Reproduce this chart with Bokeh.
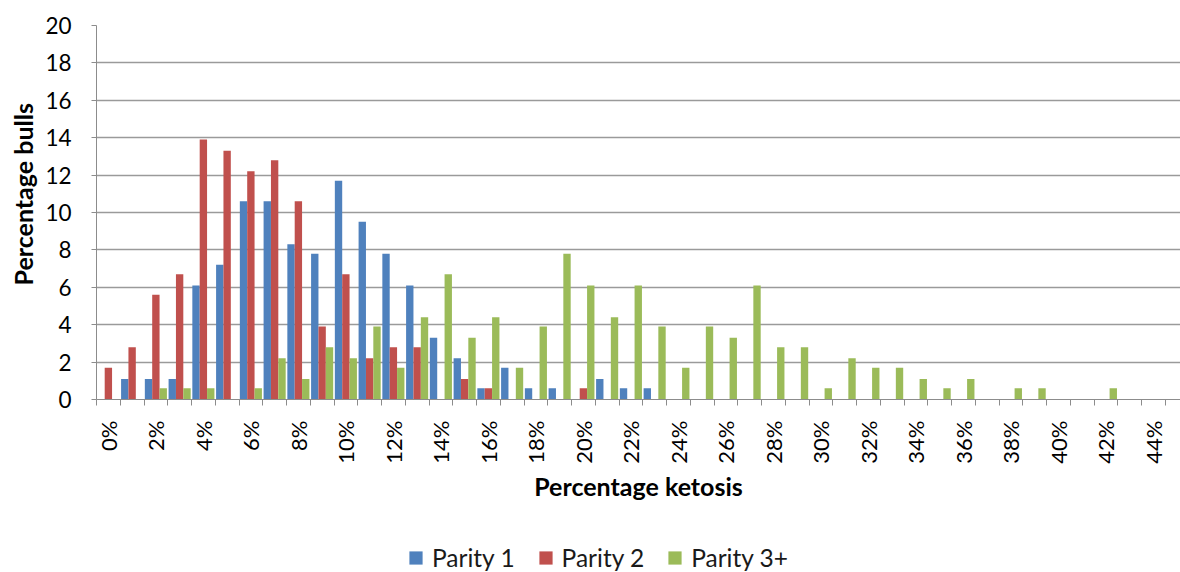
import math

from bokeh.embed import file_html
from bokeh.layouts import column
from bokeh.models import (ColumnDataSource, FixedTicker, Legend, LegendItem,
                          PrintfTickFormatter, Range1d, Title)
from bokeh.plotting import figure
from bokeh.resources import INLINE
from bokeh.transform import dodge

# Percentage ketosis categories (0% .. 45%)
ketosis = list(range(46))
# Tick labels every second category
label_ticks = list(range(0, 45, 2))
y_ticks = list(range(0, 21, 2))

series_names = ["Parity 1", "Parity 2", "Parity 3+"]
series_colors = ["#4F81BD", "#C0504D", "#9BBB59"]

# Percentage of bulls per ketosis class
parity1 = [0, 1.1, 1.1, 1.1, 6.1, 7.2, 10.6, 10.6, 8.3, 7.8,
           11.7, 9.5, 7.8, 6.1, 3.3, 2.2, 0.6, 1.7, 0.6, 0.6,
           0, 1.1, 0.6, 0.6, 0, 0, 0, 0, 0, 0,
           0, 0, 0, 0, 0, 0, 0, 0, 0, 0,
           0, 0, 0, 0, 0, 0]
parity2 = [1.7, 2.8, 5.6, 6.7, 13.9, 13.3, 12.2, 12.8, 10.6, 3.9,
           6.7, 2.2, 2.8, 2.8, 0, 1.1, 0.6, 0, 0, 0,
           0.6, 0, 0, 0, 0, 0, 0, 0, 0, 0,
           0, 0, 0, 0, 0, 0, 0, 0, 0, 0,
           0, 0, 0, 0, 0, 0]
parity3 = [0, 0, 0.6, 0.6, 0.6, 0, 0.6, 2.2, 1.1, 2.8,
           2.2, 3.9, 1.7, 4.4, 6.7, 3.3, 4.4, 1.7, 3.9, 7.8,
           6.1, 4.4, 6.1, 3.9, 1.7, 3.9, 3.3, 6.1, 2.8, 2.8,
           0.6, 2.2, 1.7, 1.7, 1.1, 0.6, 1.1, 0, 0.6, 0.6,
           0, 0, 0.6, 0, 0, 0]

source = ColumnDataSource(dict(ketosis=ketosis, p1=parity1, p2=parity2, p3=parity3))
series_cols = ["p1", "p2", "p3"]

FONT = "Lato"
AXIS_GREY = "#8c8c8c"
GRID_GREY = "#9a9a9a"
LEGEND_H = 42

p = figure(width=1180, height=572 - LEGEND_H, output_backend="svg",
           toolbar_location=None,
           x_range=Range1d(-0.5, 45.14), y_range=Range1d(0, 20),
           min_border_left=96, min_border_right=0, min_border_top=25,
           min_border_bottom=572 - LEGEND_H - 399)
p.outline_line_color = None
p.background_fill_color = "white"

bar_w = 0.31
for i, (col, color) in enumerate(zip(series_cols, series_colors)):
    p.vbar(x=dodge("ketosis", (i - 1) * bar_w, range=p.x_range), top=col,
           bottom=0, width=bar_w, source=source,
           fill_color=color, line_color=None)

# x axis: labels at category centres, tick marks at category boundaries
xa = p.xaxis[0]
xa.ticker = FixedTicker(ticks=label_ticks,
                        minor_ticks=[k - 0.5 for k in range(len(ketosis) + 1)])
xa.formatter = PrintfTickFormatter(format="%d%%")
xa.major_label_orientation = math.pi / 2
xa.major_tick_out = 0
xa.major_tick_in = 0
xa.minor_tick_out = 6
xa.minor_tick_in = 0
xa.minor_tick_line_color = AXIS_GREY
xa.axis_line_color = AXIS_GREY
xa.major_label_text_font = FONT
xa.major_label_text_font_size = "22px"
xa.major_label_text_color = "black"
xa.major_label_standoff = 15
xa.axis_label = "Percentage ketosis"
xa.axis_label_text_font = FONT
xa.axis_label_text_font_style = "bold"
xa.axis_label_text_font_size = "25px"
xa.axis_label_text_color = "black"
xa.axis_label_standoff = 4

ya = p.yaxis[0]
ya.ticker = FixedTicker(ticks=y_ticks, minor_ticks=[])
ya.major_tick_out = 5
ya.major_tick_in = 0
ya.major_tick_line_color = AXIS_GREY
ya.axis_line_color = AXIS_GREY
ya.major_label_text_font = FONT
ya.major_label_text_font_size = "22.5px"
ya.major_label_text_color = "black"
ya.major_label_standoff = 20

p.xgrid.visible = False
p.ygrid.ticker = FixedTicker(ticks=y_ticks)
p.ygrid.grid_line_color = GRID_GREY
p.ygrid.grid_line_width = 1.3

# y axis title in the left border, starting 114 px above the frame bottom
p.add_layout(Title(text="Percentage bulls", align="left", offset=114,
                   text_font=FONT, text_font_style="bold",
                   text_font_size="25px", text_color="black"), "left")

# Legend strip underneath the chart; its keys share the chart's data source
lg = figure(width=1180, height=LEGEND_H, output_backend="svg",
            toolbar_location=None, min_border=0,
            x_axis_location=None, y_axis_location=None,
            x_range=Range1d(0, 1), y_range=Range1d(0, 1))
lg.outline_line_color = None
lg.grid.visible = False
keys = [lg.scatter(x="ketosis", y=col, source=source, marker="square",
                   size=13, fill_color=c, line_color=None, visible=False)
        for col, c in zip(series_cols, series_colors)]

legend = Legend(items=[LegendItem(label=n, renderers=[r])
                       for n, r in zip(series_names, keys)],
                orientation="horizontal", location=(303, -2),
                glyph_width=33, glyph_height=33,
                label_standoff=0, spacing=14, padding=0, margin=0,
                inactive_fill_alpha=0,
                border_line_color=None, background_fill_alpha=0,
                label_text_font=FONT, label_text_font_size="24.5px",
                label_text_color="#1a1a1a")
lg.add_layout(legend)

page = column(p, lg, spacing=0)
open("out.html", "w").write(file_html(page, INLINE))
